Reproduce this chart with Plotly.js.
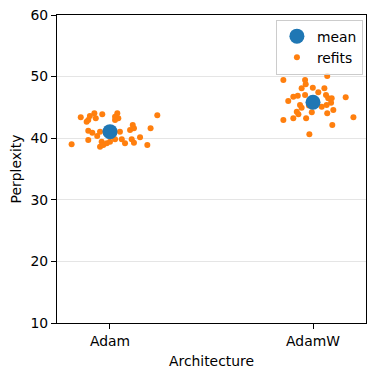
<!DOCTYPE html>
<html><head><meta charset="utf-8">
<script src="https://cdn.plot.ly/plotly-3.0.1.min.js"></script>
<style>html,body{margin:0;padding:0;background:#fff}#chart{width:376px;height:376px}</style>
</head><body><div id="chart"></div>
<script>
const categories = ["Adam", "AdamW"];
const meanValues = [41.06, 45.83];

// Adam refits: jitter offset (category units) and perplexity
const adamJitter = [-0.189,-0.144,-0.107,-0.115,-0.077,-0.070,-0.099,-0.038,-0.107,-0.087,-0.107,-0.063,-0.049,-0.041,-0.049,-0.033,-0.016,0.000,0.025,0.036,0.041,0.025,0.049,0.058,0.025,0.074,0.099,0.112,0.118,0.107,0.118,0.148,0.184,0.200,0.233];
const adamValues = [39.0,43.39,42.95,42.68,44.04,43.23,43.6,43.88,41.22,40.89,39.71,40.36,41.06,39.43,38.62,38.9,39.17,39.43,43.49,44.04,43.23,42.95,41.06,39.82,39.82,39.17,41.33,42.14,41.61,39.82,39.27,40.15,38.9,41.61,43.72];

// AdamW refits
const adamwJitter = [-0.146,-0.039,0.070,-0.036,-0.056,-0.001,0.056,-0.075,-0.097,-0.122,-0.039,0.026,0.064,0.075,0.092,0.089,0.161,-0.064,-0.056,0.043,0.067,0.100,-0.080,-0.072,-0.006,0.070,-0.097,-0.146,-0.034,0.199,0.095,-0.018,0.010,-0.020];
const adamwValues = [49.45,49.45,50.1,48.75,48.1,48.2,48.1,46.9,46.74,46.04,47.0,47.45,47.0,46.48,46.48,45.76,46.64,45.39,44.95,45.11,45.39,44.58,44.3,43.88,44.2,44.04,43.23,42.95,43.23,43.39,42.14,40.63,46.2,45.3];

const refX = adamJitter.map(j => 0 + j).concat(adamwJitter.map(j => 1 + j));
const refY = adamValues.concat(adamwValues);

const font = {family: "DejaVu Sans", size: 13.9, color: "#000"};

const traces = [
  {type: "scatter", mode: "markers", name: "refits", x: refX, y: refY,
   marker: {color: "#ff7f0e", size: 6, line: {width: 0}}, legendrank: 2},
  {type: "scatter", mode: "markers", name: "mean", x: categories.map((c, i) => i), y: meanValues,
   marker: {color: "#1f77b4", size: 15, line: {width: 0}}, legendrank: 1}
];

const layout = {
  width: 376, height: 376,
  margin: {l: 57, r: 10, t: 15, b: 53},
  paper_bgcolor: "#fff", plot_bgcolor: "#fff",
  font: font,
  showlegend: true,
  legend: {x: 0.99, y: 0.985, xanchor: "right", yanchor: "top",
           bgcolor: "rgba(255,255,255,0.8)", bordercolor: "#cccccc", borderwidth: 1,
           font: font, tracegroupgap: 0},
  xaxis: {range: [-0.261, 1.261], tickvals: [0, 1], ticktext: categories,
          showgrid: false, zeroline: false, showline: true, linecolor: "#000", linewidth: 1, mirror: true,
          ticks: "outside", ticklen: 5, tickcolor: "#000",
          title: {text: "Architecture", font: font, standoff: 8}},
  yaxis: {range: [10, 60], tickvals: [10, 20, 30, 40, 50, 60],
          showgrid: true, gridcolor: "#e5e5e5", gridwidth: 1, zeroline: false,
          showline: true, linecolor: "#000", linewidth: 1, mirror: true,
          ticks: "outside", ticklen: 5, tickcolor: "#000",
          title: {text: "Perplexity", font: font, standoff: 5}}
};

Plotly.newPlot("chart", traces, layout, {displayModeBar: false, staticPlot: true});
</script>
</body></html>
